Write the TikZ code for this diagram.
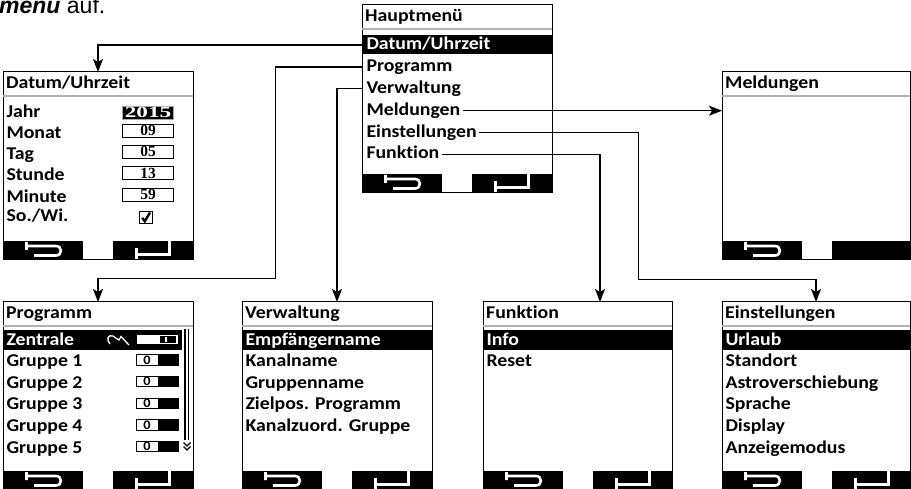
\documentclass[tikz,border=0pt]{standalone}
\usepackage{fontspec}
\setmainfont{Liberation Sans}
\newfontfamily\scr[FakeStretch=1.1,Ligatures={NoCommon}]{Carlito}
\newfontfamily\digf{Liberation Serif}
\usetikzlibrary{arrows.meta,calc}
\tikzset{
  scrfont/.style={font=\scr\bfseries\fontsize{18}{20}\selectfont},
  rowtxt/.style={scrfont, inner sep=0pt, outer sep=2.5pt, text height=12pt, text depth=3pt, anchor=base west},
  frame/.style={draw, fill=white, line width=1pt, anchor=north west, minimum height=188pt, inner sep=0pt, outer sep=0pt},
  conn/.style={line width=1.3pt},
  arr/.style={conn, -{Stealth[length=13pt,width=10pt,inset=3pt]}},
  icon/.style={white, line width=2.6pt},
  hdr/.style={gray!60, line width=2pt},
  valbox/.style={draw, line width=1pt, fill=white, minimum width=51pt, minimum height=13pt, inner sep=0pt, font=\digf\bfseries\fontsize{15.5}{15.5}\selectfont, text height=10pt, text depth=0pt},
  tgl/.style={draw, line width=1pt, fill=white, minimum width=42pt, minimum height=10.5pt, inner sep=0pt},
}
\newcommand\scrframe[6]{%
  \node[frame, minimum width=#4pt] (#1) at (#2,#3) {};
  \draw[hdr] (#2,#3+24) -- (#2+#4,#3+24);
  \node[scrfont, inner sep=0pt, anchor=base west] (#1t) at (#2+3,#3+17) {#5};
  \fill (#2,#3+169) rectangle (#2+80,#3+188);
  \fill (#2+110,#3+169) rectangle (#2+#4,#3+188);
  \draw[icon] (#2+23.5,#3+170) -- (#2+23.5,#3+178) (#2+23.5,#3+174) -- (#2+53,#3+174) .. controls (#2+59.5,#3+174) and (#2+59.5,#3+183.5) .. (#2+53,#3+183.5) -- (#2+31,#3+183.5);
  \ifnum#6=1
    \draw[icon] (#2+166.5,#3+168) -- (#2+166.5,#3+182.5) -- (#2+133,#3+182.5) (#2+133.5,#3+176) -- (#2+133.5,#3+187);
  \fi
}
\newcommand\toggle[2]{% name, baseline y
  \node[tgl] (#1) at (157,#2-6.5) {};
  \fill (158,#2-11.5) rectangle (178,#2-1.5);
  \node[font=\scr\bfseries\fontsize{13}{13}\selectfont, inner sep=0pt] at (147,#2-6.5) {0};
}
\begin{document}
\begin{tikzpicture}[x=1pt,y=-1pt]
\useasboundingbox (0,0) rectangle (911,489);
\node[font=\fontsize{23}{25}\selectfont, anchor=base west, inner sep=0pt] (intro) at (-1,14) {\textbf{\textit{menu}} auf.};

% Hauptmenue
\scrframe{H}{362}{5}{190}{Hauptmenü}{1}
\fill (362,35) rectangle (552,54.5);
\node[rowtxt, text=white] (h1) at (364,49.5) {Datum/Uhrzeit};
\node[rowtxt] (h2) at (364,71.4) {Programm};
\node[rowtxt] (h3) at (364,93.3) {Verwaltung};
\node[rowtxt] (h4) at (364,115.2) {Meldungen};
\node[rowtxt] (h5) at (364,137.1) {Einstellungen};
\node[rowtxt] (h6) at (364,159) {Funktion};

% Datum/Uhrzeit
\scrframe{D}{3}{72}{190}{Datum/Uhrzeit}{1}
\node[rowtxt] (d1) at (4,117.5) {Jahr};
\node[rowtxt] (d2) at (4,138.5) {Monat};
\node[rowtxt] (d3) at (4,159.5) {Tag};
\node[rowtxt] (d4) at (4,181) {Stunde};
\node[rowtxt] (d5) at (4,202.5) {Minute};
\node[rowtxt] (d6) at (4,222) {So./Wi.};
\node[valbox, fill=black, draw=gray!70, line width=1.5pt, text=white] (dv1) at (148,113) {\scalebox{1.5}[1]{2015}};
\node[valbox] (dv2) at (148,131) {09};
\node[valbox] (dv3) at (148,152) {05};
\node[valbox] (dv4) at (148,173.5) {13};
\node[valbox] (dv5) at (148,195) {59};
\node[draw, line width=1.3pt, minimum width=13.5pt, minimum height=12.5pt, inner sep=0pt] (dchk) at (146,217.5) {};
\draw[line width=2.4pt] ($(dchk.center)+(-3.8,0.3)$) -- ($(dchk.center)+(-1.2,3.8)$) -- ($(dchk.center)+(4,-5)$);

% Meldungen
\scrframe{M}{722}{72}{188}{Meldungen}{0}

% Programm
\scrframe{P}{3}{302}{190}{Programm}{1}
\fill (3,330.5) rectangle (181.7,350);
\node[rowtxt, text=white] (p1) at (4,345) {Zentrale};
\node[rowtxt] (p2) at (4,366.6) {Gruppe 1};
\node[rowtxt] (p3) at (4,388.2) {Gruppe 2};
\node[rowtxt] (p4) at (4,409.8) {Gruppe 3};
\node[rowtxt] (p5) at (4,431.4) {Gruppe 4};
\node[rowtxt] (p6) at (4,453) {Gruppe 5};
\draw[white, line width=1.3pt] (110,344) .. controls (106,340) and (108,334) .. (113,336) .. controls (116,337) and (117,340) .. (119,340) -- (121,336.5) -- (129,345);
\node[tgl] (pt1) at (157,339.5) {};
\fill (160,336) rectangle (176,343);
\fill[white] (164.5,337) rectangle (166.5,342);
\toggle{pt2}{366.6}
\toggle{pt3}{388.2}
\toggle{pt4}{409.8}
\toggle{pt5}{431.4}
\toggle{pt6}{453}
\draw[line width=1.2pt] (185,329) -- (185,440) (188.5,329) -- (188.5,440);
\draw[line width=1.1pt] (183.5,442.5) -- (187,446) -- (190.5,442.5) (183.5,446.5) -- (187,450) -- (190.5,446.5);

% Verwaltung
\scrframe{V}{242}{302}{190}{Verwaltung}{1}
\fill (242,330.5) rectangle (432,350);
\node[rowtxt, text=white] (v1) at (243,345) {Empfängername};
\node[rowtxt] (v2) at (243,366.6) {Kanalname};
\node[rowtxt] (v3) at (243,388.2) {Gruppenname};
\node[rowtxt] (v4) at (243,409.8) {Zielpos. Programm};
\node[rowtxt] (v5) at (243,431.4) {Kanalzuord. Gruppe};

% Funktion
\scrframe{F}{483}{302}{189}{Funktion}{1}
\fill (483,330.5) rectangle (672,350);
\node[rowtxt, text=white] (f1) at (484,345) {Info};
\node[rowtxt] (f2) at (484,366.6) {Reset};

% Einstellungen
\scrframe{E}{722}{302}{188}{Einstellungen}{1}
\fill (722,330.5) rectangle (910,350);
\node[rowtxt, text=white] (e1) at (723,345) {Urlaub};
\node[rowtxt] (e2) at (723,366.6) {Standort};
\node[rowtxt] (e3) at (723,388.2) {Astroverschiebung};
\node[rowtxt] (e4) at (723,409.8) {Sprache};
\node[rowtxt] (e5) at (723,431.4) {Display};
\node[rowtxt] (e6) at (723,453) {Anzeigemodus};

% connectors
\coordinate (pb) at (275.7,278.3);
\coordinate (eb) at (638.3,279.3);
\coordinate (fb) at ($(F.north)+(22.5,0)$);
\draw[arr] (H.west |- h1) -| (D.north);
\draw[arr] (H.west |- h2) -| (pb) -| (P.north);
\draw[arr] (H.west |- h3) -| (V.north);
\draw[arr] (h4.east) -- (M.west |- h4);
\draw[arr] (h5.east) -| (eb) -| (E.north);
\draw[arr] (h6.east) -| (fb);
\end{tikzpicture}
\end{document}
